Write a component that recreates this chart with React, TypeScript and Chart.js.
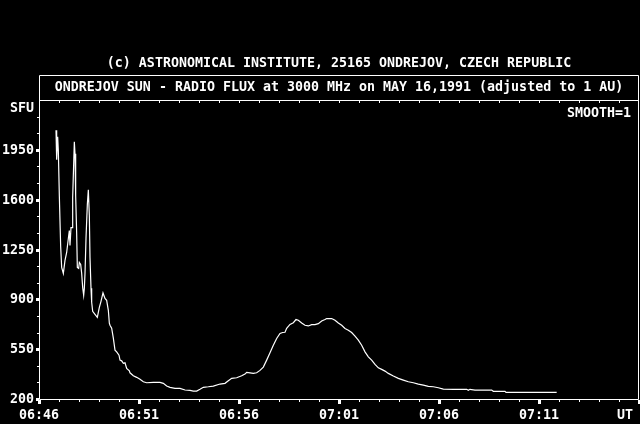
import { useEffect, useRef } from 'react';
import { Chart, registerables } from 'chart.js';

Chart.register(...registerables);

// seconds after 06:46:00 UT
const timeSec = [
  51, 53, 56, 58, 61, 65, 68, 73, 78, 83,
  88, 91, 93, 96, 100, 101, 106, 108, 110, 113,
  115, 119, 121, 125, 128, 131, 134, 136, 138, 141,
  145, 148, 151, 153, 156, 158, 161, 168, 175, 181,
  186, 192, 198, 203, 208, 211, 213, 218, 223, 228,
  233, 240, 243, 248, 253, 258, 263, 271, 273, 283,
  293, 303, 313, 323, 343, 363, 373, 383, 393, 408,
  423, 438, 453, 463, 473, 483, 493, 508, 523, 543,
  558, 568, 578, 593, 608, 618, 623, 633, 643, 653,
  663, 673, 683, 693, 703, 713, 723, 731, 738, 743,
  753, 763, 771, 778, 788, 798, 808, 818, 828, 838,
  848, 858, 863, 878, 888, 898, 908, 918, 928, 938,
  948, 958, 968, 978, 988, 998, 1008, 1018, 1028, 1038,
  1048, 1063, 1078, 1093, 1108, 1123, 1138, 1153, 1168, 1183,
  1198, 1213, 1243, 1283, 1288, 1293, 1308, 1358, 1363, 1398,
  1401, 1553,
];

// radio flux, SFU
const flux = [
  2088, 1880, 2041, 1943, 1628, 1271, 1124, 1082, 1173, 1229,
  1327, 1383, 1278, 1404, 1404, 1614, 2006, 1922, 1628, 1362,
  1124, 1117, 1159, 1145, 1082, 984, 928, 977, 1082, 1327,
  1565, 1670, 1488, 1194, 977, 879, 816, 795, 774, 844,
  886, 945, 907, 893, 823, 732, 718, 697, 627, 543,
  531, 508, 473, 468, 450, 454, 415, 398, 384, 363,
  352, 338, 321, 314, 317, 317, 310, 291, 282, 275,
  275, 263, 261, 256, 256, 268, 282, 286, 291, 305,
  310, 328, 345, 349, 363, 375, 387, 384, 380, 384,
  401, 424, 473, 524, 578, 625, 660, 667, 669, 697,
  724, 736, 758, 753, 734, 718, 713, 722, 722, 729,
  748, 758, 765, 765, 753, 734, 718, 695, 683, 667,
  641, 613, 578, 531, 496, 473, 443, 419, 408, 396,
  380, 361, 345, 333, 321, 314, 305, 298, 289, 286,
  279, 270, 268, 268, 261, 268, 263, 263, 254, 254,
  247, 247,
];

const xTickLabels = ['06:46', '06:51', '06:56', '07:01', '07:06', '07:11'];
const xTickSec = [0, 300, 600, 900, 1200, 1500];
const yTickValues = [200, 550, 900, 1250, 1600, 1950];

const X_MIN = 0;
const X_MAX = 1800;
const Y_MIN = 200;
const Y_MAX = 2300;

const FONT = 'bold 13.3px "DejaVu Sans Mono", "Liberation Mono", monospace';

const framePlugin = {
  id: 'ondrejovFrame',
  beforeDraw(chart: any) {
    const ctx = chart.ctx;
    ctx.save();
    ctx.fillStyle = '#000';
    ctx.fillRect(0, 0, chart.width, chart.height);
    ctx.restore();
  },
  afterDraw(chart: any) {
    const ctx = chart.ctx;
    const xs = chart.scales.x;
    const ys = chart.scales.y;
    const { left, right, top, bottom } = chart.chartArea;
    const L = Math.round(left);
    const R = Math.round(right);
    const T = Math.round(top);
    const B = Math.round(bottom);
    ctx.save();
    ctx.fillStyle = '#fff';
    ctx.strokeStyle = '#fff';
    ctx.lineWidth = 1;

    // title box + plot frame
    const boxTop = T - 25;
    ctx.beginPath();
    ctx.moveTo(L + 0.5, boxTop + 0.5);
    ctx.lineTo(R - 0.5, boxTop + 0.5);
    ctx.lineTo(R - 0.5, B + 0.5);
    ctx.lineTo(L + 0.5, B + 0.5);
    ctx.lineTo(L + 0.5, boxTop + 0.5);
    ctx.moveTo(L + 0.5, T + 0.5);
    ctx.lineTo(R - 0.5, T + 0.5);
    ctx.stroke();

    // x ticks every minute (bottom and top)
    for (let s = X_MIN; s <= X_MAX; s += 60) {
      const px = Math.round(xs.getPixelForValue(s));
      const isMajor = s % 300 === 0;
      if (isMajor) {
        ctx.fillRect(px - 1, B + 1, 3, 4);
      } else {
        ctx.fillRect(px, B + 1, 1, 2);
      }
      if (s > X_MIN && s < X_MAX) ctx.fillRect(px, T + 1, 1, 2);
    }

    // y ticks
    const step = (yTickValues[1] - yTickValues[0]) / 3;
    for (let k = 0; ; k++) {
      const v = Y_MIN + k * step;
      if (v > Y_MAX + 0.01) break;
      const py = Math.round(ys.getPixelForValue(v));
      const isMajor = yTickValues.some((t) => Math.abs(t - v) < 0.01);
      if (isMajor) {
        ctx.fillRect(L - 3, py - 1, 3, 3);
      } else if (v < Y_MAX - 1) {
        ctx.fillRect(L - 2, py, 2, 1);
      }
    }

    ctx.font = FONT;
    ctx.textBaseline = 'middle';

    // y labels
    ctx.textAlign = 'right';
    yTickValues.forEach((v) => {
      ctx.fillText(String(v), L - 5, Math.round(ys.getPixelForValue(v)) + 0.5);
    });
    ctx.fillText('SFU', L - 5, T + 9);

    // x labels
    ctx.textAlign = 'center';
    xTickLabels.forEach((lab, i) => {
      ctx.fillText(lab, Math.round(xs.getPixelForValue(xTickSec[i])), B + 17);
    });
    ctx.textAlign = 'right';
    ctx.fillText('UT', R - 6, B + 17);

    // smoothing note
    ctx.fillText('SMOOTH=1', R - 8, T + 14);

    // titles
    ctx.textAlign = 'center';
    const cx = (L + R) / 2;
    ctx.fillText('(c) ASTRONOMICAL INSTITUTE, 25165 ONDREJOV, CZECH REPUBLIC', cx, boxTop - 11);
    ctx.fillText('ONDREJOV SUN - RADIO FLUX at 3000 MHz on MAY 16,1991 (adjusted to 1 AU)', cx, boxTop + 13);

    ctx.restore();
  },
};

export default function App() {
  const canvasRef = useRef<HTMLCanvasElement | null>(null);

  useEffect(() => {
    const canvas = canvasRef.current;
    if (!canvas) return;
    const points = timeSec.map((t, i) => ({ x: t, y: flux[i] }));
    const chart = new Chart(canvas, {
      type: 'line',
      data: {
        datasets: [
          {
            data: points,
            borderColor: '#ffffff',
            borderWidth: 1.2,
            pointRadius: 0,
            tension: 0,
            fill: false,
          },
        ],
      },
      options: {
        animation: false,
        responsive: false,
        maintainAspectRatio: false,
        devicePixelRatio: 1,
        layout: { padding: { left: 39, top: 100, right: 1, bottom: 25 } },
        plugins: {
          legend: { display: false },
          tooltip: { enabled: false },
          title: { display: false },
        },
        scales: {
          x: { type: 'linear', min: X_MIN, max: X_MAX, display: false },
          y: { type: 'linear', min: Y_MIN, max: Y_MAX, display: false },
        },
      },
      plugins: [framePlugin],
    });
    return () => chart.destroy();
  }, []);

  return (
    <div style={{ position: 'fixed', left: 0, top: 0, width: 640, height: 424, background: '#000' }}>
      <canvas ref={canvasRef} width={640} height={424} style={{ display: 'block', width: 640, height: 424 }} />
    </div>
  );
}
